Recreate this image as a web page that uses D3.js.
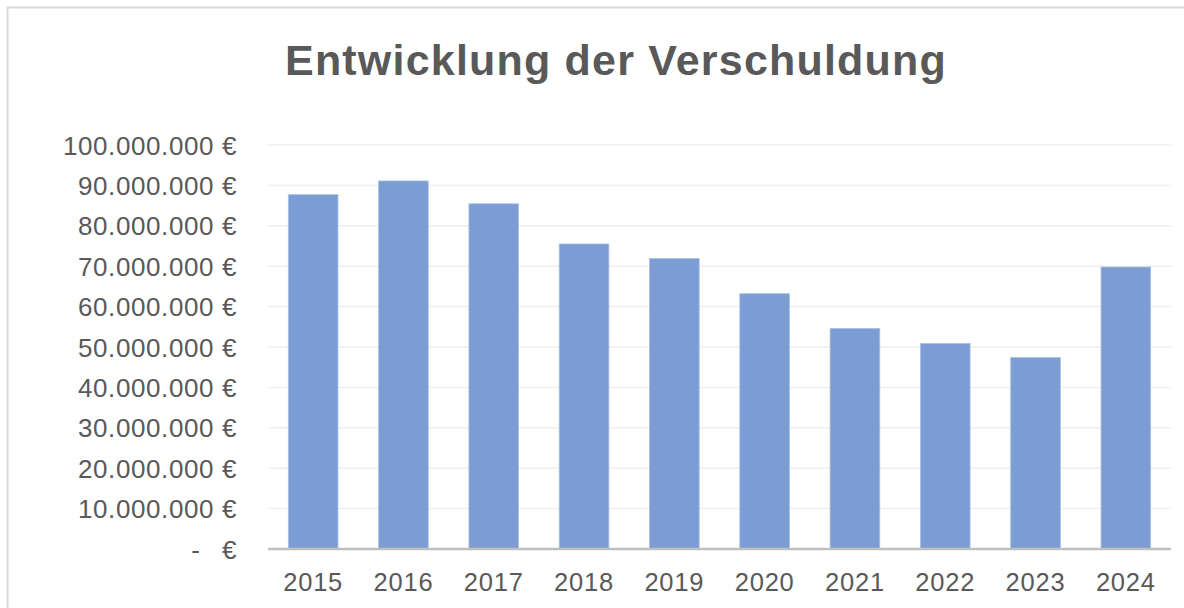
<!DOCTYPE html>
<html>
<head>
<meta charset="utf-8">
<script src="https://cdn.jsdelivr.net/npm/d3@7"></script>
<style>
  body { margin: 0; background: #fff; }
  svg { display: block; font-family: "Liberation Sans", Arial, sans-serif; }
</style>
</head>
<body>
<script>
// Daten
const years = ["2015","2016","2017","2018","2019","2020","2021","2022","2023","2024"];
const debt = [87700000, 91100000, 85450000, 75500000, 71900000, 63200000, 54600000, 50900000, 47400000, 69800000];
const yTicks = [0,10000000,20000000,30000000,40000000,50000000,60000000,70000000,80000000,90000000,100000000];
const title = "Entwicklung der Verschuldung";

const width = 1184, height = 608;
const margin = {left: 268, right: 13, top: 145, bottom: 59};

const svg = d3.select("body").append("svg")
  .attr("width", width).attr("height", height);

// Rahmen (rechts/unten abgeschnitten)
svg.append("rect")
  .attr("x", 7.5).attr("y", 7.5)
  .attr("width", width + 20).attr("height", height + 20)
  .attr("fill", "#fff").attr("stroke", "#d9d9d9").attr("stroke-width", 2);

const x = d3.scaleBand().domain(years)
  .range([margin.left, width - margin.right])
  .paddingInner(0.45).paddingOuter(0.225);
const y = d3.scaleLinear().domain([0, 100000000])
  .range([height - margin.bottom, margin.top]);

const fmt = v => d3.format(",")(v).replace(/,/g, ".") + " €";

// Gitterlinien
svg.append("g").selectAll("line").data(yTicks.filter(d => d > 0)).enter()
  .append("line")
  .attr("x1", margin.left).attr("x2", width - margin.right)
  .attr("y1", d => y(d)).attr("y2", d => y(d))
  .attr("stroke", "#eeeeee").attr("stroke-width", 1.5);

// Balken
svg.append("g").selectAll("rect").data(debt).enter()
  .append("rect")
  .attr("x", (d, i) => x(years[i]))
  .attr("width", x.bandwidth())
  .attr("y", d => y(d))
  .attr("height", d => y(0) - y(d))
  .attr("fill", "#7c9dd4")
  .attr("stroke", "#a9c0e6").attr("stroke-width", 0.8);

// x-Achse
svg.append("line")
  .attr("x1", margin.left).attr("x2", width - margin.right)
  .attr("y1", y(0)).attr("y2", y(0))
  .attr("stroke", "#bfbfbf").attr("stroke-width", 2.5);

// y-Beschriftung
const yl = svg.append("g").attr("fill", "#595959").attr("font-size", 26)
  .style("letter-spacing", "0.6px");
yl.selectAll("text").data(yTicks.filter(d => d > 0)).enter()
  .append("text")
  .attr("x", 237).attr("y", d => y(d) + 9.5)
  .attr("text-anchor", "end")
  .text(fmt);
yl.append("text").attr("x", 237).attr("y", y(0) + 9.5).attr("text-anchor", "end").text("€");
yl.append("text").attr("x", 196).attr("y", y(0) + 9.5).attr("text-anchor", "middle").text("-");

// x-Beschriftung
svg.append("g").selectAll("text").data(years).enter()
  .append("text")
  .attr("x", d => x(d) + x.bandwidth() / 2)
  .attr("y", 591)
  .attr("text-anchor", "middle")
  .attr("fill", "#595959").attr("font-size", 25.5)
  .style("letter-spacing", "0.8px")
  .text(d => d);

// Titel
svg.append("text")
  .attr("x", 616).attr("y", 75)
  .attr("text-anchor", "middle")
  .attr("fill", "#595959")
  .attr("font-size", 43).attr("font-weight", "bold")
  .style("letter-spacing", "1.2px")
  .text(title);
</script>
</body>
</html>
